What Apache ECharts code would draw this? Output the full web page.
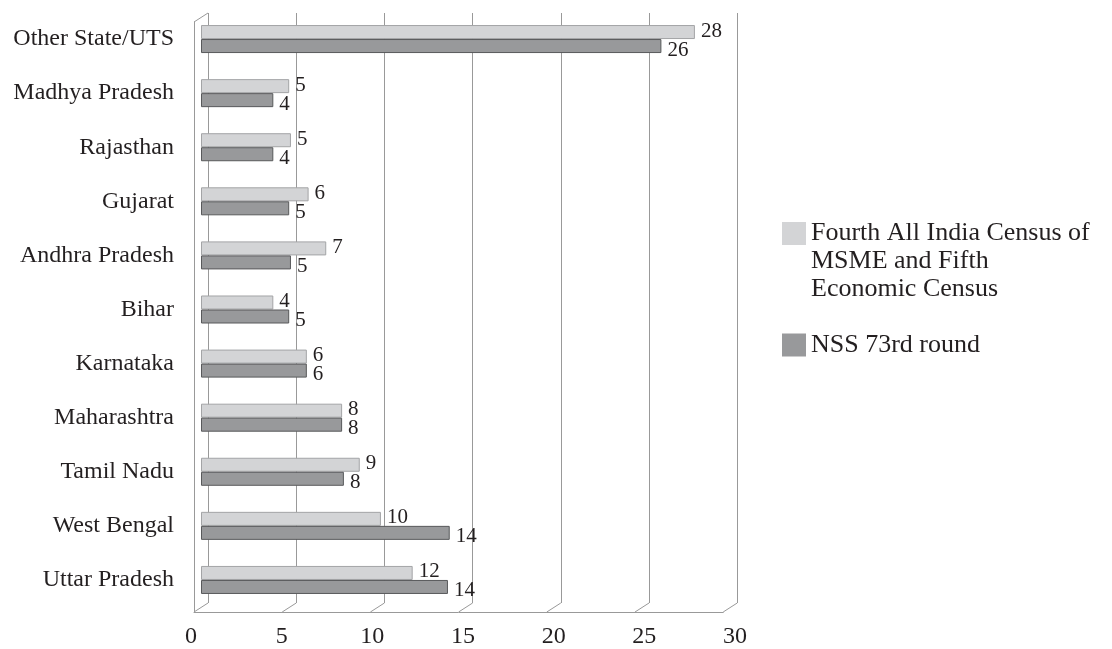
<!DOCTYPE html>
<html>
<head>
<meta charset="utf-8">
<script src="https://cdn.jsdelivr.net/npm/echarts@6/dist/echarts.min.js"></script>
<style>
html,body{margin:0;padding:0;background:#fff;}
#chart{width:1112px;height:649px;}
</style>
</head>
<body>
<div id="chart"></div>
<script>
// ---- data ----
const categories = ['Uttar Pradesh','West Bengal','Tamil Nadu','Maharashtra','Karnataka','Bihar','Andhra Pradesh','Gujarat','Rajasthan','Madhya Pradesh','Other State/UTS'];
const seriesNames = ['Fourth All India Census of MSME and Fifth Economic Census','NSS 73rd round'];
const fourthCensus = [12.0, 10.2, 9.0, 8.0, 6.0, 4.1, 7.1, 6.1, 5.1, 5.0, 28.0];
const nss73 = [14.0, 14.1, 8.1, 8.0, 6.0, 5.0, 5.1, 5.0, 4.1, 4.1, 26.1];
const xTicks = [0, 5, 10, 15, 20, 25, 30];

// ---- styles ----
const FONT = "'Liberation Serif','Times New Roman',serif";
const TXT = '#231f20';
const GRIDC = '#999999';
const DX = 14, DY = 9; // perspective offset of floor

const chart = echarts.init(document.getElementById('chart'), null, {renderer:'canvas'});
const hiddenVal = (gi) => ({type:'value', gridIndex:gi, min:0, max:1, show:false});

chart.setOption({
  backgroundColor:'#ffffff',
  animation:false,
  textStyle:{fontFamily:FONT},
  grid:[
    {left:201, top:12, width:529.2, height:595},   // bars
    {left:208, top:13, width:529.2, height:590},   // back wall
    {left:194, top:22, width:529.2, height:590},   // front floor / left wall
    {left:191, top:13, width:544, height:590}      // tick labels
  ],
  xAxis:[
    {type:'value', gridIndex:0, min:0, max:30, interval:5, show:false},
    {type:'value', gridIndex:1, min:0, max:30, interval:5,
      axisLine:{show:false}, axisTick:{show:false}, axisLabel:{show:false},
      splitLine:{show:true, lineStyle:{color:GRIDC, width:1}}},
    {type:'value', gridIndex:2, min:0, max:30, interval:5,
      axisLine:{show:true, onZero:false, lineStyle:{color:GRIDC, width:1}},
      axisTick:{show:false}, axisLabel:{show:false}, splitLine:{show:false}},
    {type:'value', gridIndex:3, min:0, max:30, interval:5,
      axisLine:{show:false}, axisTick:{show:false}, splitLine:{show:false},
      axisLabel:{show:true, margin:23, color:TXT, fontSize:24, fontFamily:FONT}}
  ],
  yAxis:[
    {type:'category', gridIndex:0, data:categories,
      axisLine:{show:false}, axisTick:{show:false},
      axisLabel:{margin:27, color:TXT, fontSize:24, fontFamily:FONT}},
    hiddenVal(1),
    {type:'value', gridIndex:2, min:0, max:1,
      axisLine:{show:true, onZero:false, lineStyle:{color:GRIDC, width:1}},
      axisTick:{show:false}, axisLabel:{show:false}, splitLine:{show:false}},
    hiddenVal(3)
  ],
  legend:[
    {
      data:[{name:seriesNames[0], icon:'rect', itemStyle:{borderWidth:0}}],
      orient:'vertical', left:782, top:163.5, padding:0,
      itemWidth:24, itemHeight:23, selectedMode:false,
      formatter:() => ' \n \nFourth All India Census of\nMSME and Fifth\nEconomic Census',
      textStyle:{color:TXT, fontSize:26, lineHeight:28, fontFamily:FONT}
    },
    {
      data:[{name:seriesNames[1], icon:'rect', itemStyle:{borderWidth:0}}],
      orient:'vertical', left:782, top:331, padding:0,
      itemWidth:24, itemHeight:23, selectedMode:false,
      textStyle:{color:TXT, fontSize:26, lineHeight:28, fontFamily:FONT}
    }
  ],
  series:[
    {
      type:'custom', xAxisIndex:1, yAxisIndex:1, silent:true, z:1,
      data:xTicks.map(v => [v]),
      renderItem:(params, api) => {
        const v = api.value(0);
        const b = api.coord([v, 0]);
        const st = {stroke:GRIDC, lineWidth:1, fill:null};
        const children = [{type:'line', shape:{x1:b[0], y1:b[1], x2:b[0]-DX, y2:b[1]+DY}, style:st}];
        if (v === xTicks[0]) {
          const t = api.coord([v, 1]);
          children.push({type:'line', shape:{x1:t[0], y1:t[1], x2:t[0]-DX, y2:t[1]+DY}, style:st});
        }
        return {type:'group', children};
      }
    },
    {
      name:seriesNames[0], type:'bar', xAxisIndex:0, yAxisIndex:0, z:3,
      data:fourthCensus, barGap:'0%', barCategoryGap:'48.2%',
      itemStyle:{color:'#d3d4d6', borderColor:'#a3a4a6', borderWidth:1},
      label:{show:true, position:'right', distance:6, offset:[0,-1], color:TXT, fontSize:21, fontFamily:FONT,
        formatter:p => Math.round(p.value)}
    },
    {
      name:seriesNames[1], type:'bar', xAxisIndex:0, yAxisIndex:0, z:3,
      data:nss73, barGap:'0%', barCategoryGap:'48.2%',
      itemStyle:{color:'#98999b', borderColor:'#58595b', borderWidth:1},
      label:{show:true, position:'right', distance:6, offset:[0,4], color:TXT, fontSize:21, fontFamily:FONT,
        formatter:p => Math.round(p.value)}
    }
  ]
});
</script>
</body>
</html>
